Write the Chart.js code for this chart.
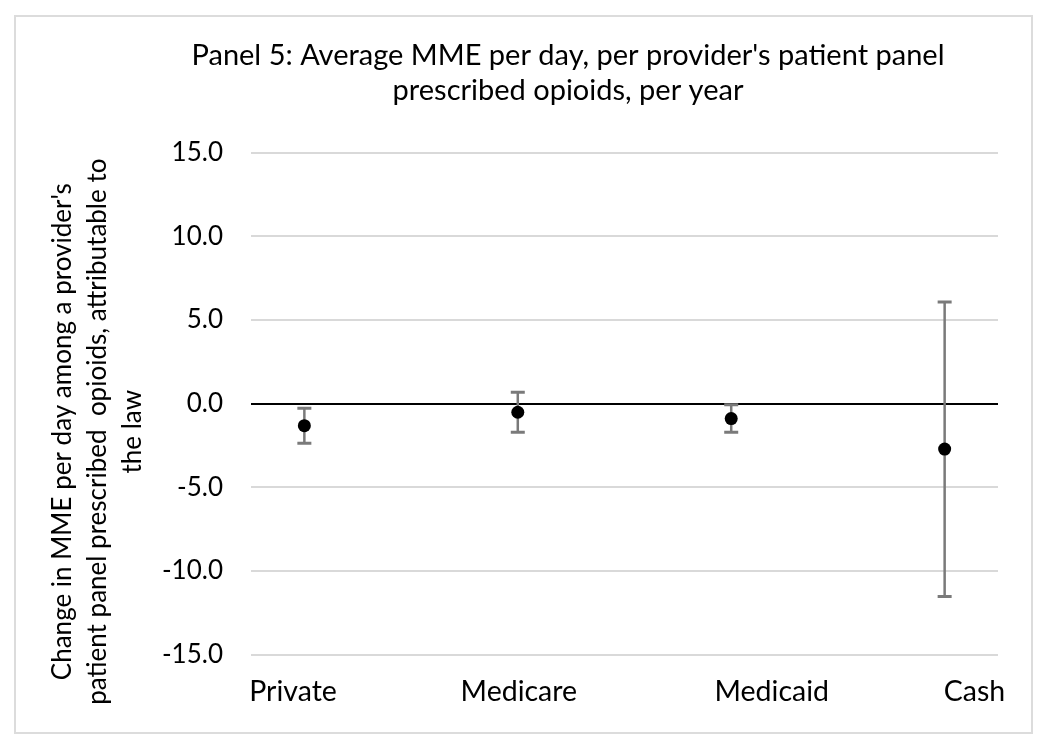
<!DOCTYPE html>
<html>
<head>
<meta charset="utf-8">
<script src="https://cdn.jsdelivr.net/npm/chart.js@4"></script>
<style>
  html, body { margin: 0; padding: 0; background: #ffffff; }
  #wrap { position: relative; width: 1050px; height: 746px; overflow: hidden; }
  #c { position: absolute; left: 0; top: 0; }
  #frame { position: absolute; left: 14px; top: 15px; width: 1019px; height: 719px;
           border: 2px solid #dcdcdc; box-sizing: border-box; pointer-events: none; }
</style>
</head>
<body>
<div id="wrap">
  <canvas id="c" width="1050" height="746"></canvas>
  <div id="frame"></div>
</div>
<script>
// ---- data ----
const categories = ['Private', 'Medicare', 'Medicaid', 'Cash'];
const estimates  = [-1.31, -0.51, -0.89, -2.71];
const lowerCI    = [-2.37, -1.71, -1.71, -11.51];
const upperCI    = [-0.27, 0.69, -0.07, 6.08];
const yTickValues = [-15, -10, -5, 0, 5, 10, 15];
const titleLines = ["Panel 5: Average MME per day, per provider's patient panel",
                    "prescribed opioids, per year"];
const yTitleLines = ["Change in MME per day among a provider's",
                     "patient panel prescribed  opioids, attributable to",
                     "the law"];

// ---- layout / style (not data) ----
const FONT = 'Lato, "Open Sans", sans-serif';
const TEXT_COLOR = '#000000';
const labelShift = [-0.053, 0.005, 0.19, 0.14]; // category label offset (x-units) as placed in the reference

const pointData = categories.map((c, i) => ({ x: i + 1, y: estimates[i] }));
const errorSets = categories.map((c, i) => ({
  type: 'line',
  label: c + ' CI',
  data: [{ x: i + 1, y: lowerCI[i] }, { x: i + 1, y: upperCI[i] }],
  borderColor: '#7a7a7a',
  borderWidth: 2.5,
  pointStyle: 'line',
  pointRadius: 7,
  pointBorderWidth: 3,
  pointBorderColor: '#7a7a7a',
  pointHoverRadius: 7,
  fill: false,
  order: 1
}));

const yTitlePlugin = {
  id: 'yTitle',
  afterDraw(chart) {
    const ctx = chart.ctx;
    const area = chart.chartArea;
    ctx.save();
    ctx.fillStyle = TEXT_COLOR;
    ctx.font = '26px ' + FONT;
    ctx.textAlign = 'center';
    ctx.textBaseline = 'alphabetic';
    const cy = (area.top + area.bottom) / 2 + 28;
    const baseX = [71, 106, 141];
    yTitleLines.forEach((t, i) => {
      ctx.save();
      ctx.translate(baseX[i], cy);
      ctx.rotate(-Math.PI / 2);
      ctx.fillText(t, 0, 0);
      ctx.restore();
    });
    ctx.restore();
  }
};

new Chart(document.getElementById('c'), {
  type: 'scatter',
  data: {
    datasets: [
      {
        label: 'Estimate',
        data: pointData,
        pointRadius: 6.5,
        pointHoverRadius: 6.5,
        pointBackgroundColor: '#000000',
        pointBorderColor: '#000000',
        pointBorderWidth: 0,
        showLine: false,
        order: 0
      },
      ...errorSets
    ]
  },
  options: {
    responsive: false,
    animation: false,
    events: [],
    layout: { padding: { left: 138, right: 52, top: 0, bottom: 17 } },
    plugins: {
      legend: { display: false },
      tooltip: { enabled: false },
      title: {
        display: true,
        text: titleLines,
        color: TEXT_COLOR,
        font: { family: FONT, size: 29, weight: 'normal', lineHeight: 1.2 },
        padding: { top: 38, bottom: 45 }
      }
    },
    scales: {
      x: {
        type: 'linear',
        min: 0.75,
        max: 4.25,
        grid: { display: false, drawTicks: false },
        border: { display: false },
        afterBuildTicks(scale) {
          scale.ticks = categories.map((c, i) => ({ value: i + 1 + labelShift[i] }));
        },
        ticks: {
          autoSkip: false,
          maxRotation: 0,
          padding: 20,
          color: TEXT_COLOR,
          font: { family: FONT, size: 28.5 },
          callback: (v, i) => categories[i]
        }
      },
      y: {
        type: 'linear',
        min: -15,
        max: 15,
        afterBuildTicks(scale) {
          scale.ticks = yTickValues.map(v => ({ value: v }));
        },
        afterFit(scale) { scale.width = 113; },
        grid: {
          drawTicks: false,
          color: ctx => (ctx.tick && ctx.tick.value === 0) ? '#000000' : '#d9d9d9',
          lineWidth: 2
        },
        border: { display: false },
        ticks: {
          padding: 28,
          color: TEXT_COLOR,
          font: { family: FONT, size: 26 },
          callback: v => Number(v).toFixed(1)
        }
      }
    }
  },
  plugins: [yTitlePlugin]
});
</script>
</body>
</html>
